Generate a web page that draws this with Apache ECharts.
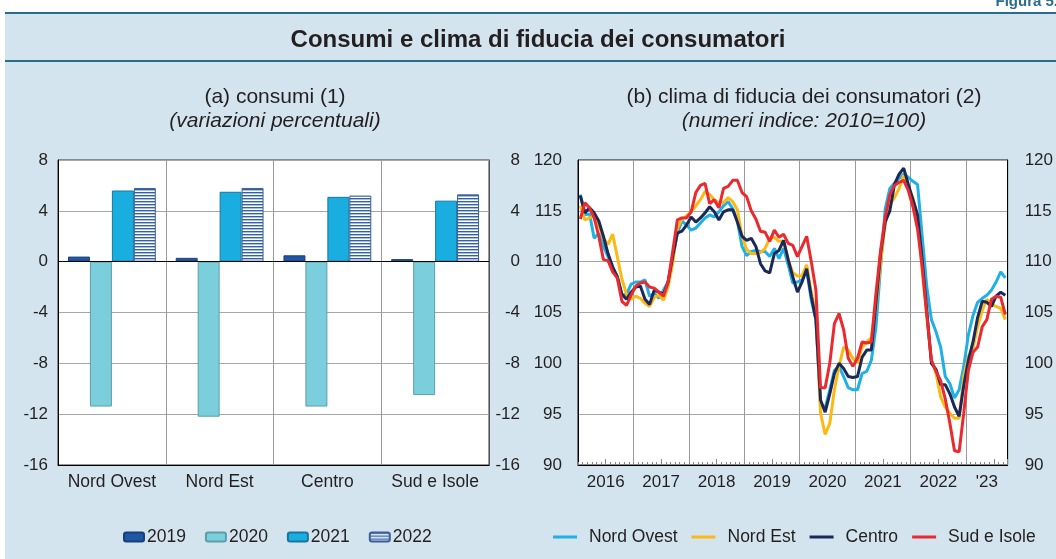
<!DOCTYPE html>
<html>
<head>
<meta charset="utf-8">
<script src="https://cdn.jsdelivr.net/npm/echarts@6/dist/echarts.min.js"></script>
<style>
  html, body { margin: 0; padding: 0; background: #fff; }
  #main { width: 1056px; height: 559px; }
</style>
</head>
<body>
<div id="main"></div>
<script>
// ---- dati pannello (a): consumi, variazioni percentuali
var regioni = ['Nord Ovest', 'Nord Est', 'Centro', 'Sud e Isole'];
var anni = ['2019', '2020', '2021', '2022'];
var cons2019 = [0.4, 0.3, 0.5, 0.2];
var cons2020 = [-11.4, -12.2, -11.4, -10.5];
var cons2021 = [5.6, 5.5, 5.1, 4.8];
var cons2022 = [5.8, 5.8, 5.2, 5.3];

// ---- dati pannello (b): clima di fiducia, gen 2016 - set 2023
var nordOvest = [116.6, 114.6, 114.7, 112.3, 112.8, 111.5, 110.5, 109.4, 108.6, 106.7,
  106.8, 107.8, 108.0, 108.0, 108.2, 106.6, 106.9, 106.4, 107.2, 108.0,
  110.3, 112.8, 114.0, 113.6, 113.1, 113.3, 113.8, 114.3, 114.6, 114.4,
  114.9, 115.5, 115.9, 115.2, 114.0, 111.5, 110.6, 111.0, 111.1, 111.0,
  111.0, 110.5, 111.3, 110.3, 111.3, 109.7, 107.9, 108.0, 108.2, 109.2,
  106.2, 104.3, 96.0, 95.6, 97.4, 99.3, 99.7, 98.7, 97.6, 97.4,
  97.4, 99.0, 99.2, 100.3, 103.6, 109.5, 115.2, 117.2, 117.7, 118.2,
  118.6, 118.3, 117.9, 117.6, 112.5, 107.5, 104.3, 103.1, 101.6, 98.7,
  98.0, 96.6, 97.4, 99.7, 102.8, 104.7, 106.0, 106.4, 106.7, 107.2,
  108.0, 109.0, 108.4];
var nordEst = [115.5, 114.1, 114.3, 114.5, 113.6, 112.3, 111.7, 112.7, 110.5, 108.3,
  106.8, 106.3, 106.6, 106.4, 105.9, 105.6, 106.5, 106.7, 106.2, 107.5,
  109.8, 113.3, 114.2, 114.5, 114.9, 115.5, 116.1, 116.9, 116.6, 116.1,
  115.8, 115.8, 116.3, 115.9, 115.1, 112.5, 111.2, 110.8, 110.8, 110.9,
  111.3, 112.3, 112.4, 112.0, 112.0, 110.2, 108.9, 108.6, 108.6, 109.7,
  107.0, 104.9, 95.1, 93.0, 94.1, 97.4, 99.7, 101.6, 101.3, 100.5,
  100.0, 101.6, 102.1, 102.5, 105.6, 109.8, 113.8, 115.6, 116.3, 117.2,
  118.5, 117.3, 116.3, 114.6, 109.2, 104.6, 100.3, 99.0, 96.7, 95.7,
  95.1, 94.6, 94.6, 98.7, 100.7, 101.5, 103.6, 105.2, 106.3, 105.8,
  105.6, 105.4, 104.3];
var centro = [116.5, 114.8, 115.3, 114.8, 114.0, 112.5, 110.8, 109.5, 108.5, 106.8,
  106.3, 107.0, 107.5, 107.6, 106.3, 105.8, 107.2, 107.0, 106.8, 108.0,
  110.5, 112.8, 113.0, 113.6, 114.4, 113.9, 114.3, 114.8, 115.4, 114.9,
  114.1, 114.9, 115.1, 115.1, 113.9, 112.5, 112.1, 112.3, 111.5, 109.8,
  109.1, 108.9, 110.8, 111.1, 112.1, 110.2, 108.5, 107.0, 108.0, 109.3,
  106.6, 104.3, 96.4, 95.2, 97.0, 99.0, 100.0, 99.5, 98.7, 98.6,
  98.7, 100.6, 101.3, 101.3, 106.0, 110.8, 113.9, 115.0, 117.6, 118.6,
  119.2, 117.6, 116.1, 114.6, 110.2, 105.2, 100.0, 99.4, 97.9, 97.9,
  97.0, 95.7, 94.8, 97.8, 100.3, 102.1, 104.5, 106.1, 106.0, 105.6,
  106.6, 107.0, 106.7];
var sudIsole = [114.2, 115.8, 115.3, 114.3, 112.5, 110.2, 110.1, 109.0, 108.4, 106.1,
  105.7, 106.7, 107.6, 107.9, 108.0, 107.5, 107.4, 107.0, 106.6, 108.0,
  111.0, 114.1, 114.3, 114.3, 114.9, 116.8, 117.5, 117.7, 115.7, 116.1,
  115.3, 117.2, 117.4, 118.0, 118.0, 116.8, 116.4, 115.0, 114.2, 113.0,
  112.9, 112.0, 113.1, 112.4, 112.7, 111.8, 111.6, 110.5, 111.5, 112.5,
  110.0, 107.2, 97.6, 97.6, 100.0, 103.9, 104.9, 103.3, 100.5, 99.7,
  100.5, 102.1, 102.0, 102.1, 106.9, 111.1, 114.4, 116.6, 117.5, 117.8,
  118.0, 117.0, 115.4, 113.2, 109.5, 104.8, 100.3, 99.2, 98.3, 96.5,
  94.1, 91.4, 91.3, 95.1, 99.3, 101.1, 101.6, 103.6, 104.3, 106.3,
  106.6, 106.5, 104.8];

var mesi = [];
for (var a = 2016; a <= 2023; a++) {
  for (var m = 1; m <= 12; m++) {
    if (a === 2023 && m > 9) break;
    mesi.push(a + '-' + (m < 10 ? '0' + m : m));
  }
}

var FONT = '"Liberation Sans", Arial, sans-serif';
var TXT = '#231f20';

// trama a righe orizzontali per il 2022
function righe() {
  var c = document.createElement('canvas');
  c.width = 4; c.height = 3;
  var ctx = c.getContext('2d');
  ctx.fillStyle = '#ffffff'; ctx.fillRect(0, 0, 4, 3);
  ctx.fillStyle = '#3460a8'; ctx.fillRect(0, 0, 4, 1);
  ctx.fillStyle = '#a9c0e2'; ctx.fillRect(0, 1, 4, 1);
  return c;
}

var chart = echarts.init(document.getElementById('main'), null, { renderer: 'canvas' });

function barSerie(name, data, color, border) {
  return {
    name: name, type: 'bar', xAxisIndex: 0, yAxisIndex: 0,
    data: data, barGap: '0%', barCategoryGap: '18.5%',
    itemStyle: { color: color, borderColor: border, borderWidth: 1 },
    emphasis: { disabled: true }
  };
}
function lineSerie(name, data, color) {
  return {
    name: name, type: 'line', xAxisIndex: 1, yAxisIndex: 2,
    data: data, symbol: 'none', smooth: false,
    lineStyle: { color: color, width: 3 }, itemStyle: { color: color },
    emphasis: { disabled: true }
  };
}

var s2019 = barSerie('2019', cons2019, '#1f56a5', '#173f7a');
s2019.markLine = {
  silent: true, symbol: 'none', label: { show: false },
  lineStyle: { color: '#000', width: 1, type: 'solid' },
  data: [{ yAxis: 0 }]
};

var option = {
  backgroundColor: '#ffffff',
  animation: false,
  textStyle: { fontFamily: FONT },
  graphic: [
    { type: 'rect', z: -10, shape: { x: 5, y: 13, width: 1051, height: 546 }, style: { fill: '#d3e4ee' } },
    { type: 'line', shape: { x1: 5, y1: 13, x2: 1056, y2: 13 }, style: { stroke: '#2b6c8d', lineWidth: 2 } },
    { type: 'line', shape: { x1: 5, y1: 61, x2: 1056, y2: 61 }, style: { stroke: '#2b6c8d', lineWidth: 2 } },
    { type: 'text', x: 1058, y: -6, style: { text: 'Figura 5.', align: 'right', fill: '#2b6c8d', font: 'bold 15px ' + FONT } },
    { type: 'text', x: 538, y: 40, style: { text: 'Consumi e clima di fiducia dei consumatori', align: 'center', verticalAlign: 'middle', fill: TXT, font: 'bold 24px ' + FONT } },
    { type: 'text', x: 275, y: 97, style: { text: '(a) consumi (1)', align: 'center', verticalAlign: 'middle', fill: TXT, font: '21px ' + FONT } },
    { type: 'text', x: 275, y: 121, style: { text: '(variazioni percentuali)', align: 'center', verticalAlign: 'middle', fill: TXT, font: 'italic 21px ' + FONT } },
    { type: 'text', x: 804, y: 97, style: { text: '(b) clima di fiducia dei consumatori (2)', align: 'center', verticalAlign: 'middle', fill: TXT, font: '21px ' + FONT } },
    { type: 'text', x: 804, y: 121, style: { text: '(numeri indice: 2010=100)', align: 'center', verticalAlign: 'middle', fill: TXT, font: 'italic 21px ' + FONT } }
  ],
  legend: [
    {
      data: anni, left: 123, top: 528, padding: 0, itemWidth: 20, itemHeight: 9, itemGap: 19,
      textStyle: { fontSize: 17.5, color: TXT, padding: [0, 0, 0, -2] }
    },
    {
      data: ['Nord Ovest', 'Nord Est', 'Centro', 'Sud e Isole'], left: 553, top: 528, padding: 0,
      icon: 'rect', itemWidth: 24, itemHeight: 3, itemGap: 14,
      textStyle: { fontSize: 17.5, color: TXT, padding: [0, 0, 0, 7] }
    }
  ],
  grid: [
    { left: 58, right: 567, top: 160, bottom: 94, show: true, backgroundColor: '#fff', borderColor: '#333', borderWidth: 1 },
    { left: 578, right: 46, top: 160, bottom: 94, show: true, backgroundColor: '#fff', borderColor: '#111', borderWidth: 1 }
  ],
  xAxis: [
    {
      gridIndex: 0, type: 'category', data: regioni, position: 'bottom',
      axisLine: { onZero: false, lineStyle: { color: '#000' } },
      axisTick: { show: false },
      splitLine: { show: true, lineStyle: { color: '#9a9a9a' } },
      axisLabel: { fontSize: 17.5, color: TXT, margin: 8, interval: 0 }
    },
    {
      gridIndex: 1, type: 'category', data: mesi, boundaryGap: true, position: 'bottom',
      axisLine: { onZero: false, lineStyle: { color: '#000' } },
      axisTick: { show: true, inside: true, interval: 0, length: 3, lineStyle: { color: '#888' } },
      splitLine: { show: true, interval: function (i) { return i % 12 === 0; }, lineStyle: { color: '#9a9a9a' } },
      axisLabel: {
        fontSize: 17, color: TXT, margin: 9,
        interval: function (i) { return (i % 12 === 6 && i < 84) || i === 88; },
        formatter: function (v, i) {
          var y = v.slice(0, 4);
          return y === '2023' ? "{b|'23}" : '{a|' + y + '}';
        },
        rich: {
          a: { fontSize: 17, color: TXT, padding: [0, 4.6, 0, 0] },
          b: { fontSize: 17, color: TXT }
        }
      }
    },
    {
      gridIndex: 1, type: 'category', data: mesi, boundaryGap: true, position: 'bottom',
      axisLine: { show: false },
      axisTick: { show: true, inside: true, length: 6, interval: function (i) { return i % 12 === 6; }, lineStyle: { color: '#888' } },
      axisLabel: { show: false },
      splitLine: { show: false }
    }
  ],
  yAxis: [
    {
      gridIndex: 0, type: 'value', min: -16, max: 8, interval: 4, position: 'left',
      axisLine: { show: true, lineStyle: { color: '#000' } },
      axisTick: { show: false },
      splitLine: { show: true, lineStyle: { color: '#a6a6a6' } },
      axisLabel: { fontSize: 17, color: TXT, margin: 10 }
    },
    {
      gridIndex: 0, type: 'value', min: -16, max: 8, interval: 4, position: 'right',
      axisLine: { show: true, lineStyle: { color: '#555' } },
      axisTick: { show: false },
      splitLine: { show: false },
      axisLabel: { fontSize: 17, color: TXT, margin: 31, align: 'right' }
    },
    {
      gridIndex: 1, type: 'value', min: 90, max: 120, interval: 5, position: 'left',
      axisLine: { show: true, lineStyle: { color: '#000' } },
      axisTick: { show: false },
      splitLine: { show: true, lineStyle: { color: '#a6a6a6' } },
      axisLabel: { fontSize: 17, color: TXT, margin: 16 }
    },
    {
      gridIndex: 1, type: 'value', min: 90, max: 120, interval: 5, position: 'right',
      axisLine: { show: true, lineStyle: { color: '#000' } },
      axisTick: { show: false },
      splitLine: { show: false },
      axisLabel: { fontSize: 17, color: TXT, margin: 17 }
    }
  ],
  series: [
    s2019,
    barSerie('2020', cons2020, '#7bcfdc', '#5a9ea8'),
    barSerie('2021', cons2021, '#1aaee0', '#17779c'),
    barSerie('2022', cons2022, { image: righe(), repeat: 'repeat' }, '#3a5f95'),
    lineSerie('Nord Ovest', nordOvest, '#1eb0e6'),
    lineSerie('Nord Est', nordEst, '#fdb913'),
    lineSerie('Centro', centro, '#1b2959'),
    lineSerie('Sud e Isole', sudIsole, '#ea2a2f')
  ]
};

chart.setOption(option);
</script>
</body>
</html>
